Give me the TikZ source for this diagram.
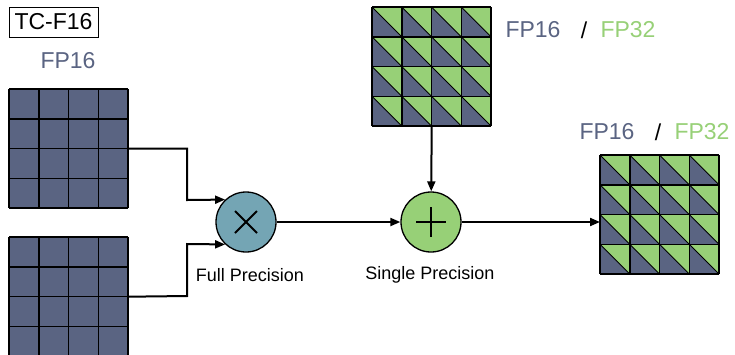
\documentclass[tikz,border=0pt]{standalone}
\usepackage{fontspec}
\setmainfont{Liberation Sans}
\usetikzlibrary{arrows.meta,calc}
\definecolor{fpblue}{HTML}{5A6482}
\definecolor{fpgreen}{HTML}{97D077}
\definecolor{opblue}{HTML}{74A5B4}
\tikzset{
  gridline/.style={line width=1.5pt, draw=black},
  conn/.style={line width=2pt, -{Triangle[length=10pt,width=8pt]}},
  opnode/.style={circle, draw=black, line width=1.3pt, minimum size=60pt, inner sep=0pt},
  opsign/.style={line width=1.8pt},
  lab/.style={inner sep=0pt, font=\fontsize{23}{26}\selectfont},
  smalllab/.style={inner sep=0pt, font=\fontsize{18}{20}\selectfont},
  mat/.style={minimum width=119pt, minimum height=119pt, inner sep=0pt, anchor=north west}
}
\begin{document}
\begin{tikzpicture}[x=1pt,y=-1pt]
\useasboundingbox (0,0) rectangle (735,354);
% plain FP16 matrices
\foreach \nm/\ox/\oy in {ma/9/89, mb/9/237}{
  \node[mat] (\nm) at (\ox,\oy) {};
  \fill[fpblue] (\ox,\oy) rectangle ++(119,119);
  \foreach \i in {0,...,4}{
    \draw[gridline] (\ox+\i*29.75,\oy) -- ++(0,119);
    \draw[gridline] (\ox,\oy+\i*29.75) -- ++(119,0);
  }
}
% mixed matrices
\foreach \nm/\ox/\oy in {mc/372/7, md/600/155}{
  \node[mat] (\nm) at (\ox,\oy) {};
  \foreach \i in {0,...,3}{
    \foreach \j in {0,...,3}{
      \fill[fpblue] (\ox+\i*29.75,\oy+\j*29.75) -- ++(0,29.75) -- ++(29.75,0) -- cycle;
      \fill[fpgreen] (\ox+\i*29.75,\oy+\j*29.75) -- ++(29.75,0) -- ++(0,29.75) -- cycle;
      \draw[line width=1pt] (\ox+\i*29.75,\oy+\j*29.75) -- ++(29.75,29.75);
    }
  }
  \foreach \i in {0,...,4}{
    \draw[gridline] (\ox+\i*29.75,\oy) -- ++(0,119);
    \draw[gridline] (\ox,\oy+\i*29.75) -- ++(119,0);
  }
}
% operator circles
\node[opnode, fill=opblue] (mul) at (246,222) {};
\draw[opsign] ($(mul)+(-11,-11)$) -- ($(mul)+(11,11)$);
\draw[opsign] ($(mul)+(-11,11)$) -- ($(mul)+(11,-11)$);
\node[opnode, fill=fpgreen] (add) at (431,222) {};
\draw[opsign] ($(add)+(-15,0)$) -- ($(add)+(15,0)$);
\draw[opsign] ($(add)+(0,-15)$) -- ($(add)+(0,15)$);
% texts
\node[draw=black, line width=1pt, minimum width=89pt, minimum height=30pt, inner sep=0pt, lab] (title) at (53.5,22) {TC-F16};
\node[lab, text=fpblue] (l1) at (68,61) {FP16};
\node[lab, text=fpblue] (l2) at (533,30) {FP16};
\node[lab] (s2) at (584,30) {/};
\node[lab, text=fpgreen] (g2) at (628,30) {FP32};
\node[lab, text=fpblue] (l3) at (607,132) {FP16};
\node[lab] (s3) at (658,132) {/};
\node[lab, text=fpgreen] (g3) at (702,132) {FP32};
\node[smalllab] (fp) at (250,275) {Full Precision};
\node[smalllab] (sp) at (430,275) {Single Precision};
% connectors
\coordinate (a1) at (187,148.5);
\coordinate (a2) at (187,200);
\coordinate (b1) at (187,296);
\coordinate (b2) at (187,244);
\draw[conn] (ma.east) -- (a1) -- (a2) -- (mul.133);
\draw[conn] (mb.east) -- (b1) -- (b2) -- (mul.227);
\draw[conn] (mul) -- (add);
\draw[conn] (mc.south) -- (add);
\draw[conn] (add) -- (add -| md.west);
\end{tikzpicture}
\end{document}
